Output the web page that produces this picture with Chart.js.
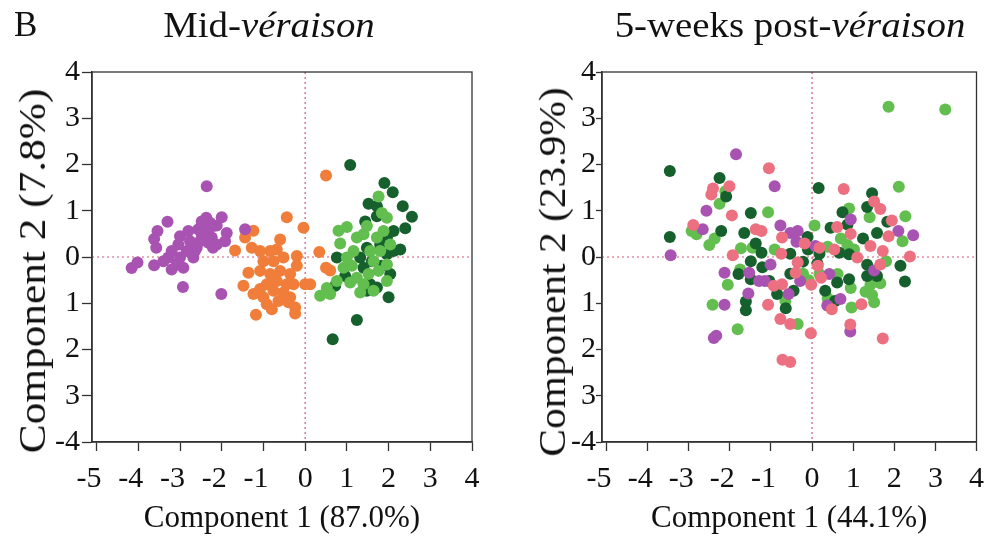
<!DOCTYPE html>
<html>
<head>
<meta charset="utf-8">
<script src="https://cdn.jsdelivr.net/npm/chart.js@4.4.0/dist/chart.umd.min.js"></script>
<style>
  body { margin:0; background:#fff; width:994px; height:537px; position:relative; overflow:hidden; font-family:'Liberation Serif', serif; color:#111; }
  .panel { position:absolute; top:0; width:497px; height:537px; }
  .txt { position:absolute; white-space:nowrap; z-index:2; }
  .title { top:8px; font-size:35px; line-height:35px; text-align:center; transform:scaleX(1.11); }
  .ytitle { font-size:38px; line-height:38px; }
</style>
</head>
<body>
<div class="txt" style="left:14px;top:7px;font-size:35px;line-height:35px">B</div>
<div class="txt title" style="left:0;width:538px">Mid-<i>véraison</i></div>
<div class="txt title" style="left:586px;width:408px">5-weeks post-<i>véraison</i></div>
<div class="txt ytitle" style="left:32px;top:271px;transform:translate(-50%,-50%) rotate(-90deg) scale(1.14,1)">Component 2 (7.8%)</div>
<div class="txt ytitle" style="left:552px;top:272px;transform:translate(-50%,-50%) rotate(-90deg) scale(1.09,1)">Component 2 (23.9%)</div>
<div class="panel" style="left:0"><canvas id="mid"></canvas></div>
<div class="panel" style="left:497px"><canvas id="post"></canvas></div>
<script>
// tick values and their printed labels (the y labels are printed as in the source figure)
var xTickValues = [-5, -4, -3, -2, -1, 0, 1, 2, 3, 4];
var xTickLabels = ['-5', '-4', '-3', '-2', '-1', '0', '1', '2', '3', '4'];
var yTickValues = [-4, -3, -2, -1, 0, 1, 2, 3, 4];
var yTickLabels = ['-4', '3', '2', '1', '0', '1', '2', '3', '4'];

// Mid-veraison scores [component 1, component 2]
var midPurple = [[-2.36,1.53],[-3.30,0.76],[-3.54,0.56],[-3.62,0.39],[-3.57,0.20],[-4.16,-0.24],[-4.02,-0.12],[-3.62,-0.18],
  [-2.93,-0.65],[-2.01,-0.80],[-2.37,0.85],[-2.00,0.86],[-1.88,0.52],[-1.44,0.60],[-3.28,-0.01],[-3.08,-0.16],[-3.20,-0.27],
  [-2.92,-0.23],[-3.00,-0.01],[-2.84,0.13],[-2.68,-0.01],[-2.60,0.20],[-3.00,0.45],[-2.80,0.56],[-3.04,0.27],[-2.76,0.34],
  [-2.56,0.60],[-2.48,0.49],[-2.36,0.56],[-2.24,0.42],[-2.20,0.67],[-2.12,0.27],[-2.32,0.31],[-2.52,0.34],[-2.64,0.13],
  [-2.21,0.20],[-3.20,0.13],[-3.40,-0.09],[-2.48,0.77],[-2.12,0.68],[-2.28,0.74],[-1.92,0.34]];
var midOrange = [[0.50,1.76],[-0.44,0.86],[-0.04,0.63],[-1.24,0.57],[-1.44,0.42],[-1.68,0.14],[-0.60,0.38],[0.34,0.11],
  [-0.20,0.02],[0.50,-0.23],[0.60,-0.29],[-1.48,-0.62],[0.00,-0.59],[0.12,-0.59],[-1.18,-1.25],[-0.24,-1.22],[-0.80,-1.13],
  [-1.36,-0.34],[-1.24,-0.80],[-0.36,-0.87],[-1.28,0.20],[-1.08,0.13],[-0.84,0.13],[-0.68,0.16],[-1.00,-0.09],[-0.76,-0.09],
  [-0.52,-0.01],[-1.08,-0.30],[-0.84,-0.37],[-0.60,-0.30],[-0.36,-0.37],[-0.92,-0.59],[-0.68,-0.52],[-0.44,-0.59],[-0.76,-0.73],
  [-0.52,-0.77],[-1.00,-0.87],[-0.64,-0.95],[-0.40,-0.98],[-0.92,-1.02],[-0.24,-1.09],[-1.08,-0.69],[-0.28,-0.59],[-0.20,-0.19]];
var midLightGreen = [[0.80,0.57],[1.00,0.65],[0.84,0.29],[0.36,-0.84],[0.52,-0.67],[0.60,-0.80],[1.76,1.31],[1.84,0.95],
  [1.24,0.42],[1.40,0.49],[1.16,0.13],[1.00,-0.01],[0.92,-0.23],[1.12,-0.19],[1.24,-0.45],[1.40,-0.59],[1.32,-0.77],[1.64,-0.73],
  [1.56,0.13],[1.72,0.42],[1.88,0.56],[1.80,0.13],[1.96,-0.16],[1.76,-0.30],[1.52,-0.37],[1.96,-0.52],[1.48,0.67],[1.96,0.85],
  [2.04,0.27],[1.08,-0.55],[0.76,-0.52],[1.64,-0.09]];
var midDarkGreen = [[1.08,1.99],[1.90,1.60],[2.10,1.40],[2.34,1.10],[2.56,0.87],[1.52,1.15],[1.72,1.10],[1.44,0.77],[2.40,0.62],
  [2.12,0.56],[2.28,0.16],[0.76,-0.01],[0.72,-0.62],[0.96,-0.41],[1.24,-1.36],[0.66,-1.78],[2.00,-0.87],[1.56,-0.59],[1.72,-0.66],
  [1.40,-0.23],[2.04,-0.37],[1.96,0.06],[2.12,0.13],[1.80,0.27],[1.48,0.20],[1.96,0.42],[1.72,0.88],[1.60,-0.09],[1.84,-0.19],
  [1.32,-0.01],[1.48,-0.73]];

// 5-weeks post-veraison scores
var postPink = [[-2.01,1.53],[-2.41,1.48],[-2.45,1.35],[-1.95,0.90],[-2.89,0.69],[-1.37,0.60],[-1.23,0.56],[-1.05,1.92],
  [-1.93,0.04],[-1.07,-1.03],[0.77,1.47],[1.51,1.20],[1.66,1.04],[1.94,0.79],[0.61,0.65],[1.86,0.45],[0.94,0.50],[-0.73,0.42],
  [-0.18,0.29],[0.54,0.16],[1.10,-0.01],[1.42,0.24],[1.72,0.13],[1.66,-0.16],[2.38,0.01],[1.20,-1.02],[0.93,-1.46],[1.72,-1.76],
  [0.48,-1.13],[0.14,-0.19],[0.22,-0.45],[-0.02,-0.60],[-0.40,-0.34],[-0.35,-0.12],[-0.75,0.07],[-0.93,-0.62],[-0.73,-0.59],
  [-0.77,-1.34],[-0.53,-1.45],[-0.03,-1.65],[-0.72,-2.22],[-0.53,-2.27],[0.18,0.20]];
var postPurple = [[-3.44,0.04],[-1.85,2.22],[-2.57,1.00],[-2.66,0.60],[-2.13,-0.34],[-1.53,-0.34],[-1.29,-0.52],[-1.15,-0.52],
  [-1.55,-0.79],[-2.13,-1.03],[-2.39,-1.75],[-2.33,-1.70],[-0.91,1.53],[0.94,0.81],[-0.77,0.68],[-0.53,0.52],[-0.35,0.56],
  [2.10,0.56],[2.46,0.47],[-0.38,0.33],[1.51,-0.29],[0.93,-1.61],[0.69,-0.91],[0.37,-1.05],[0.42,-0.37],[-0.29,-0.52],[0.08,0.24],
  [-1.01,-0.16],[-0.57,-0.80]];
var postDarkGreen = [[-3.46,1.86],[-3.46,0.43],[-2.25,1.71],[-2.09,1.31],[-2.21,0.56],[-1.65,0.52],[-1.49,0.95],[-1.37,0.29],
  [-1.23,0.09],[-1.49,-0.09],[-1.21,-0.22],[-1.79,-0.37],[-1.49,-0.48],[-1.61,-0.96],[-1.61,-1.15],[0.16,1.49],[1.46,1.38],
  [1.34,1.08],[0.74,0.97],[0.86,0.70],[1.83,0.76],[0.45,0.63],[1.58,0.52],[1.24,0.40],[-0.11,0.43],[-0.53,0.07],[-0.10,0.16],
  [0.18,0.07],[0.66,0.09],[0.90,0.06],[2.15,-0.19],[2.26,-0.53],[1.34,-0.17],[1.34,-0.41],[1.58,-0.41],[0.90,-0.48],[0.61,-0.55],
  [0.56,-0.95],[0.32,-0.73],[-0.53,-0.36],[-0.22,-0.10],[0.13,-0.14],[-1.04,-0.52],[-0.85,-0.80],[-0.45,-0.73],[-0.64,-1.11]];
var postLightGreen = [[-2.11,1.42],[-2.25,1.15],[-2.93,0.56],[-2.81,0.49],[-2.37,0.40],[-2.50,0.26],[-1.07,0.97],[-1.73,0.19],
  [-1.45,0.20],[-1.75,-0.27],[-2.05,-0.60],[-2.42,-1.03],[-1.81,-1.56],[1.86,3.25],[3.24,3.19],[2.11,1.52],[1.40,0.86],[0.90,1.05],
  [2.27,0.88],[0.06,0.68],[0.70,0.40],[2.20,0.34],[-0.91,0.16],[0.38,0.22],[0.86,0.26],[1.02,0.16],[1.80,-0.09],[1.66,-0.57],
  [1.42,-0.60],[1.30,-0.75],[1.46,-0.82],[1.51,-0.98],[0.96,-1.09],[0.94,-0.67],[0.62,-0.37],[0.38,-0.89],[0.18,-0.37],
  [-0.08,-0.50],[-0.22,-0.36],[-0.65,-0.95],[-0.35,-1.45]];

var PURPLE = 'rgb(168,82,178)', ORANGE = 'rgb(240,126,58)', LIGHT = 'rgb(98,190,78)',
    DARK = 'rgb(22,96,46)', PINK = 'rgb(236,112,128)';

// dotted zero lines under the points, and the closed frame on top
const frame = {
  id: 'frame',
  beforeDatasetsDraw(chart) {
    const {ctx, chartArea: a, scales: {x, y}} = chart;
    const x0 = x.getPixelForValue(0), y0 = y.getPixelForValue(0);
    ctx.save();
    ctx.strokeStyle = 'rgba(205,70,100,0.9)';
    ctx.lineWidth = 1.2;
    ctx.setLineDash([2, 3]);
    ctx.beginPath();
    ctx.moveTo(x0, a.top); ctx.lineTo(x0, a.bottom);
    ctx.moveTo(a.left, y0); ctx.lineTo(a.right, y0);
    ctx.stroke();
    ctx.restore();
  },
  afterDraw(chart) {
    const {ctx, chartArea: a} = chart;
    ctx.save();
    ctx.strokeStyle = '#333';
    ctx.lineWidth = 1.3;
    ctx.strokeRect(a.left, a.top, a.right - a.left, a.bottom - a.top);
    ctx.restore();
  }
};

function makeChart(id, sets, xTitle, yAxisWidth, rightPad, yTick) {
  return new Chart(document.getElementById(id), {
    type: 'scatter',
    data: {
      datasets: sets.map(s => ({
        data: s.points.map(p => ({x: p[0], y: p[1]})),
        backgroundColor: s.color,
        borderWidth: 0,
        pointRadius: 6,
        pointHoverRadius: 6
      }))
    },
    options: {
      responsive: true,
      maintainAspectRatio: false,
      animation: false,
      layout: {padding: {top: 72, right: rightPad, left: 0, bottom: 0}},
      plugins: {legend: {display: false}, tooltip: {enabled: false}},
      scales: {
        x: {
          type: 'linear', min: -5.11, max: 4,
          afterBuildTicks: s => { s.ticks = xTickValues.map(v => ({value: v})); },
          afterFit: s => { s.height = 95; },
          grid: {drawOnChartArea: false, tickLength: 9, tickColor: '#333', tickWidth: 1.3},
          border: {color: '#333', width: 1.5},
          ticks: {
            color: '#111', font: {family: 'Liberation Serif', size: 30}, padding: 10,
            maxRotation: 0, autoSkip: false,
            // the minus sign hangs left of the tick, so pad negative labels on the right
            callback: (v) => xTickLabels[xTickValues.indexOf(v)] + (v < 0 ? '\u2002' : '')
          },
          title: {display: true, text: xTitle, color: '#111',
                  font: {family: 'Liberation Serif', size: 31}, padding: {top: 0, bottom: 0}}
        },
        y: {
          type: 'linear', min: -4, max: 4,
          afterBuildTicks: s => { s.ticks = yTickValues.map(v => ({value: v})); },
          afterFit: s => { s.width = yAxisWidth; },
          grid: {drawOnChartArea: false, tickLength: yTick.len, tickColor: '#333', tickWidth: 1.3},
          border: {color: '#333', width: 1.5},
          ticks: {
            color: '#111', font: {family: 'Liberation Serif', size: 30}, padding: yTick.pad,
            callback: (v) => yTickLabels[yTickValues.indexOf(v)]
          }
        }
      }
    },
    plugins: [frame]
  });
}

makeChart('mid', [
  {points: midPurple, color: PURPLE},
  {points: midOrange, color: ORANGE},
  {points: midLightGreen, color: LIGHT},
  {points: midDarkGreen, color: DARK}
], 'Component 1 (87.0%)', 92, 25, {len: 10, pad: 2});

makeChart('post', [
  {points: postPink, color: PINK},
  {points: postPurple, color: PURPLE},
  {points: postDarkGreen, color: DARK},
  {points: postLightGreen, color: LIGHT}
], 'Component 1 (44.1%)', 105, 11, {len: 6, pad: 0});
</script>
</body>
</html>
